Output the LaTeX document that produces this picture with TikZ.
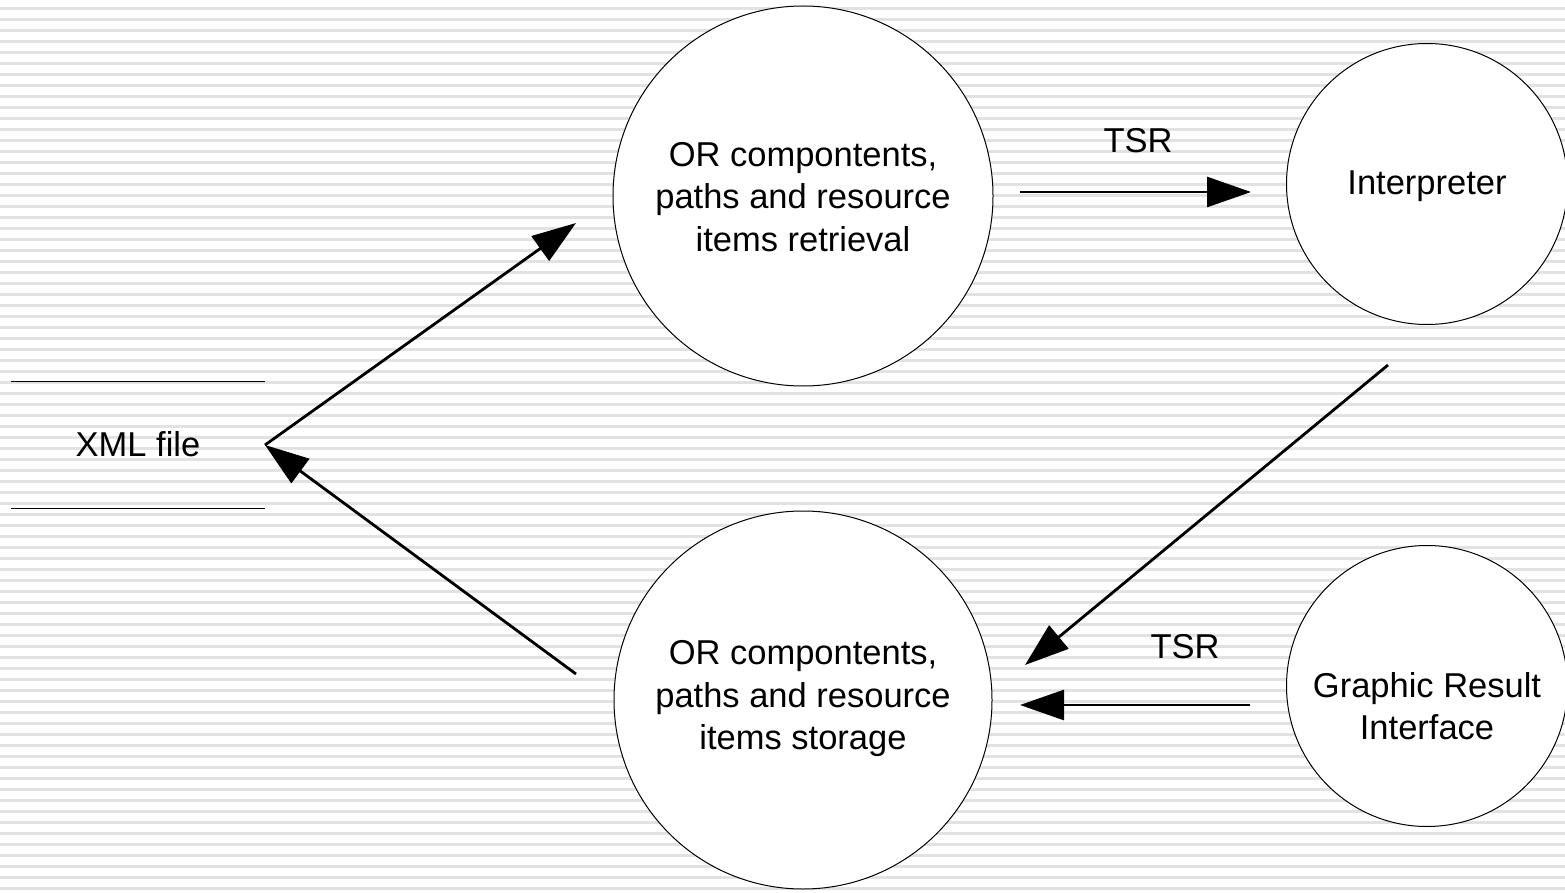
\documentclass[tikz,border=0pt]{standalone}
\usepackage{fontspec}
\setmainfont{Liberation Sans}
\usetikzlibrary{arrows.meta}
\definecolor{stripe}{gray}{0.885}
\begin{document}
\begin{tikzpicture}[x=1pt,y=-1pt,
  proc/.style={circle,draw=black,line width=1pt,fill=white,inner sep=0pt},
  lbl/.style={font=\fontsize{34.5}{42.5}\selectfont,align=center},
  flow/.style={line width=2.8pt,-{Triangle[length=44pt,width=30pt]}}]
\useasboundingbox (0,0) rectangle (1565,893);
% striped backdrop
\foreach \i in {0,...,80}
  \fill[stripe] (0,{7+11*\i}) rectangle (1565,{9.8+11*\i});
% processes
\node[proc,minimum size=380pt] (ret) at (803,196) {};
\node[proc,minimum size=378pt] (sto) at (803,700) {};
\node[proc,minimum size=281pt] (int) at (1427,184) {};
\node[proc,minimum size=281pt] (gri) at (1427,686) {};
\node[lbl] (tret) at (803,197) {OR compontents,\\paths and resource\\items retrieval};
\node[lbl] (tsto) at (803,699) {OR compontents,\\paths and resource\\items storage};
\node[lbl] (tint) at (1427,186) {Interpreter};
\node[lbl] (tgri) at (1427,706) {Graphic Result\\Interface};
% data store
\coordinate (xa) at (11,381);
\coordinate (xb) at (265,381);
\coordinate (xc) at (11,508);
\coordinate (xd) at (265,508);
\draw[line width=1pt] (xa) -- (xb);
\draw[line width=1pt] (xc) -- (xd);
\node[lbl] (xml) at (138,444) {XML file};
% connector ends
\coordinate (xp) at (265,445);
\coordinate (r1) at (576,223);
\coordinate (s1) at (576,674);
\coordinate (r2) at (1020,192);
\coordinate (i1) at (1251,192);
\coordinate (i2) at (1388,365);
\coordinate (s2) at (1025,665);
\coordinate (g1) at (1250,705);
\coordinate (s3) at (1020,705);
% flows
\draw[flow] (xp) -- (r1);
\draw[flow] (s1) -- (xp);
\draw[flow] (r2) -- (i1);
\draw[flow] (i2) -- (s2);
\draw[flow] (g1) -- (s3);
\node[lbl] (tsr1) at (1138,141) {TSR};
\node[lbl] (tsr2) at (1185,647) {TSR};
\end{tikzpicture}
\end{document}
